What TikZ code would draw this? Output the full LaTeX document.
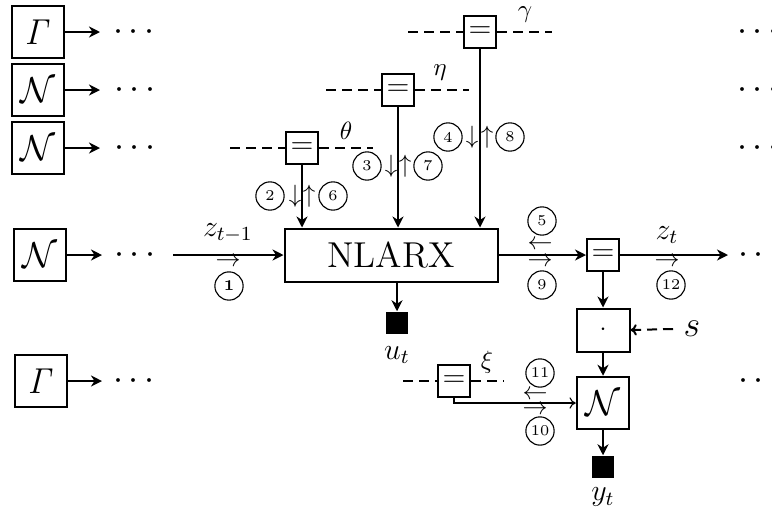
\documentclass[tikz,border=0pt]{standalone}
\usetikzlibrary{arrows.meta}
\begin{document}
\begin{tikzpicture}[x=0.4pt,y=-0.4pt,
  ln/.style={line width=0.8pt},
  arr/.style={line width=0.8pt,-{Stealth[length=4.4pt,width=4.4pt,inset=1.4pt]}},
  thinarr/.style={line width=0.45pt,-{To[length=2.5pt,width=4.5pt]}},
  bigbox/.style={draw,line width=0.8pt,minimum size=21pt,inner sep=0pt,font=\Large},
  pbox/.style={draw,line width=0.8pt,minimum size=12.8pt,inner sep=0pt,font=\large},
  num/.style={circle,draw,line width=0.45pt,minimum size=11.3pt,inner sep=0pt,font=\fontsize{6}{7}\selectfont},
  sq/.style={fill=black,minimum size=9pt,inner sep=0pt},
  dts/.style={font=\Large,inner sep=0pt},
  pdash/.style={line width=0.8pt,dash pattern=on 4pt off 2.4pt},
  sym/.style={inner sep=0pt},
  lab/.style={inner sep=0pt,font=\large},
  glab/.style={inner sep=0pt,font=\normalsize}]
\useasboundingbox (0,0) rectangle (772,508);

% left column
\node[bigbox] (g1) at (38,32) {$\mathit{\Gamma}$};
\node[bigbox] (n2) at (38,90) {$\mathcal{N}$};
\node[bigbox] (n3) at (38,148) {$\mathcal{N}$};
\node[bigbox] (n4) at (40,255) {$\mathcal{N}$};
\node[bigbox] (g5) at (41,381) {$\mathit{\Gamma}$};
\coordinate (a1) at (100,32);
\coordinate (a2) at (100,90);
\coordinate (a3) at (100,148);
\coordinate (a4) at (102,255);
\coordinate (a5) at (102,381);
\draw[arr] (g1.east) -- (a1);
\draw[arr] (n2.east) -- (a2);
\draw[arr] (n3.east) -- (a3);
\draw[arr] (n4.east) -- (a4);
\draw[arr] (g5.east) -- (a5);
\node[dts] (d1) at (134,32) {$\cdots$};
\node[dts] (d2) at (135,90) {$\cdots$};
\node[dts] (d3) at (135,148) {$\cdots$};
\node[dts] (d4) at (135,255) {$\cdots$};
\node[dts] (d5) at (134,381) {$\cdots$};

% right dots
\node[dts] (r1) at (758,32) {$\cdots$};
\node[dts] (r2) at (758,90) {$\cdots$};
\node[dts] (r3) at (758,148) {$\cdots$};
\node[dts] (r4) at (759,255) {$\cdots$};
\node[dts] (r5) at (759,381) {$\cdots$};

% NLARX
\node[draw,ln,minimum width=85.2pt,minimum height=21.2pt,font=\Large] (nl) at (391,255) {NLARX};
\coordinate (zin) at (173,255);
\draw[arr] (zin) -- (nl.west);
\node[lab] (zl) at (228,233) {$z_{t-1}$};
\node[sym] (z1a) at (228,262) {$\rightarrow$};
\node[num] (c1) at (229,286) {\textbf{1}};

% parameter boxes
\node[pbox] (pth) at (302,148) {$=$};
\coordinate (thl) at (230,148);
\coordinate (thr) at (373,148);
\draw[pdash] (thl) -- (pth.west);
\draw[pdash] (pth.east) -- (thr);
\node[glab] (thlab) at (346,131) {$\theta$};
\draw[arr] (pth.south) -- (pth.south |- nl.north);
\node[num] (c2) at (270,196) {2};
\node[sym] (th1) at (295,196) {$\downarrow$};
\node[sym] (th2) at (309,196) {$\uparrow$};
\node[num] (c6) at (333,196) {6};

\node[pbox] (pet) at (398,90) {$=$};
\coordinate (etl) at (326,90);
\coordinate (etr) at (469,90);
\draw[pdash] (etl) -- (pet.west);
\draw[pdash] (pet.east) -- (etr);
\node[glab] (etlab) at (440,73) {$\eta$};
\draw[arr] (pet.south) -- (pet.south |- nl.north);
\node[num] (c3) at (367,166) {3};
\node[sym] (et1) at (391,166) {$\downarrow$};
\node[sym] (et2) at (405,166) {$\uparrow$};
\node[num] (c7) at (428,166) {7};

\node[pbox] (pga) at (480,32) {$=$};
\coordinate (gal) at (408,32);
\coordinate (gar) at (552,32);
\draw[pdash] (gal) -- (pga.west);
\draw[pdash] (pga.east) -- (gar);
\node[glab] (galab) at (525,15) {$\gamma$};
\draw[arr] (pga.south) -- (pga.south |- nl.north);
\node[num] (c4) at (448,137) {4};
\node[sym] (ga1) at (472,137) {$\downarrow$};
\node[sym] (ga2) at (487,137) {$\uparrow$};
\node[num] (c8) at (510,137) {8};

% u_t
\node[sq] (ut) at (397,323) {};
\draw[arr] (nl.south -| ut.north) -- (ut.north);
\node[lab] (utl) at (397,355) {$u_t$};

% right part
\node[pbox] (eq) at (603,255) {$=$};
\draw[arr] (nl.east) -- (eq.west);
\node[num] (c5) at (542,221) {5};
\node[sym] (l5) at (540,245) {$\leftarrow$};
\node[sym] (l9) at (540,262) {$\rightarrow$};
\node[num] (c9) at (542,285) {9};
\coordinate (zout) at (728,255);
\draw[arr] (eq.east) -- (zout);
\node[lab] (ztl) at (667,235) {$z_t$};
\node[sym] (l12) at (667,262) {$\rightarrow$};
\node[num] (c12) at (671,285) {12};

\node[draw,ln,minimum width=21.2pt,minimum height=17.2pt,inner sep=0pt] (dotb) at (603,330) {$\cdot$};
\draw[arr] (eq.south) -- (dotb.north);
\node[lab,font=\Large] (sl) at (692,329) {$s$};
\coordinate (sst) at (673,329);
\draw[pdash,-{To[length=2.5pt,width=4.5pt]}] (sst) -- (dotb.east);

\node[bigbox] (nout) at (603,403) {$\mathcal{N}$};
\draw[arr] (dotb.south) -- (nout.north);
\node[sq] (yt) at (603,467) {};
\draw[arr] (nout.south) -- (yt.north);
\node[lab] (ytl) at (603,497) {$y_t$};

% xi
\node[pbox] (pxi) at (454,381) {$=$};
\coordinate (xil) at (403,381);
\coordinate (xir) at (504,381);
\draw[pdash] (xil) -- (pxi.west);
\draw[pdash] (pxi.east) -- (xir);
\node[glab] (xilab) at (487,362) {$\xi$};
\draw[thinarr] (pxi.south) |- (nout.west);
\node[num] (c11) at (540,373) {11};
\node[sym] (l11) at (535,395) {$\leftarrow$};
\node[sym] (l10) at (535,410) {$\rightarrow$};
\node[num] (c10) at (540,431) {10};
\end{tikzpicture}
\end{document}
